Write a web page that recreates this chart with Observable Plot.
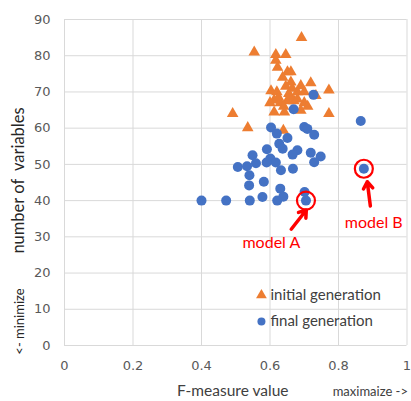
<!DOCTYPE html>
<html><head><meta charset="utf-8">
<script src="https://cdn.jsdelivr.net/npm/d3@7"></script>
<script src="https://cdn.jsdelivr.net/npm/@observablehq/plot@0.6"></script>
<style>body{margin:0;background:#fff}</style>
</head><body><div id="chart"></div>
<script>
// ---- data ----
const xTicks = [0, 0.2, 0.4, 0.6, 0.8, 1];
const yTicks = [0, 10, 20, 30, 40, 50, 60, 70, 80, 90];

// initial generation (orange triangles)
const initX = [0.692,0.554,0.617,0.646,0.617,0.622,0.651,0.661,0.637,0.661,0.719,0.690,0.646,0.772,0.603,0.620,0.680,0.700,0.734,0.612,0.630,0.650,0.670,0.700,0.640,0.491,0.612,0.642,0.690,0.772,0.535,0.639,0.660,0.680,0.625,0.710,0.665,0.600,0.655];
const initY = [85,81,80.3,80.3,78.7,76.8,75.5,75.5,74,72.7,72.5,71.7,71.5,70.5,70.3,70,70,70,69,67.7,67,67.5,67.5,67,66,64,64.4,64.4,64.9,64,60.1,59.4,68.5,68,68.5,66,71,67,69.5];

// final generation (blue circles)
const finalX = [0.727,0.669,0.865,0.874,0.603,0.620,0.651,0.700,0.709,0.729,0.627,0.637,0.680,0.666,0.591,0.549,0.601,0.617,0.559,0.590,0.506,0.533,0.632,0.667,0.719,0.748,0.729,0.540,0.582,0.539,0.630,0.701,0.639,0.578,0.400,0.472,0.541,0.621,0.705];
const finalY = [69.2,65.2,62,48.8,60.2,58.5,57.3,60.3,59.8,58.2,55.7,54.3,53.9,52.7,54.2,52.5,51.6,50.5,50.3,50.5,49.3,49.5,48.4,48.8,53.2,52.2,50.6,47,45.2,44.2,43.3,42.4,41.1,41,40,40,40,40,40];

// highlighted models
const modelNames = ["model A", "model B"];
const modelX = [0.705, 0.874];
const modelY = [40, 48.8];
const modelLabelX = [0.604, 0.903];
const modelLabelY = [28.2, 33.8];
const arrowX1 = [0.662, 0.893];
const arrowY1 = [32.1, 38.5];
const arrowX2 = [0.706, 0.884];
const arrowY2 = [37.4, 45.2];

// legend
const legendLabels = ["initial generation", "final generation"];
const legendSymbols = ["triangle", "circle"];
const legendColors = ["#ED7D31", "#4472C4"];
const legendX = [0.575, 0.575];
const legendY = [13.9, 6.6];

// ---- tables ----
const initial = initX.map((x, i) => ({x, y: initY[i]}));
const final = finalX.map((x, i) => ({x, y: finalY[i]}));
const models = modelNames.map((name, i) => ({name, x: modelX[i], y: modelY[i], lx: modelLabelX[i], ly: modelLabelY[i], x1: arrowX1[i], y1: arrowY1[i], x2: arrowX2[i], y2: arrowY2[i]}));
const legend = legendLabels.map((label, i) => ({label, symbol: legendSymbols[i], color: legendColors[i], x: legendX[i], y: legendY[i]}));

const labelFont = "Lato, 'Open Sans', sans-serif";

const chart = Plot.plot({
  width: 411, height: 401,
  marginLeft: 64, marginRight: 4.5, marginTop: 19, marginBottom: 56,
  style: {background: "#fff", fontFamily: "'DejaVu Sans', sans-serif", fontSize: "13px", color: "#595959"},
  x: {domain: [0, 1]},
  y: {domain: [0, 90]},
  marks: [
    Plot.gridX(xTicks, {stroke: "#d9d9d9", strokeOpacity: 1}),
    Plot.gridY(yTicks, {stroke: "#d9d9d9", strokeOpacity: 1}),
    Plot.axisX(xTicks, {tickSize: 0, tickPadding: 15, label: null, tickFormat: d => String(d), fill: "#595959"}),
    Plot.axisY(yTicks, {tickSize: 0, tickPadding: 14, label: null, fill: "#595959"}),
    Plot.dot(initial, {x: "x", y: "y", symbol: "triangle", r: 4.3, fill: "#ED7D31", stroke: null}),
    Plot.dot(final, {x: "x", y: "y", symbol: "circle", r: 5, fill: "#4472C4", stroke: null}),
    Plot.dot(models, {x: "x", y: "y", r: 9, fill: "none", stroke: "#FF0000", strokeWidth: 2.2}),
    Plot.arrow(models, {x1: "x1", y1: "y1", x2: "x2", y2: "y2", stroke: "#FF0000", strokeWidth: 3.5, headLength: 9, headAngle: 70}),
    Plot.text(models, {x: "lx", y: "ly", text: "name", fill: "#FF0000", fontSize: 16, fontFamily: labelFont}),
    Plot.dot(legend, {x: "x", y: "y", symbol: "symbol", fill: "color", r: 4, stroke: null}),
    Plot.text(legend, {x: "x", y: "y", text: "label", dx: 9, textAnchor: "start", fill: "#404040", fontSize: 15, fontFamily: labelFont}),
    Plot.text(["F-measure value"], {frameAnchor: "bottom", dx: -3, dy: 50, fontSize: 15.5, fill: "#404040", fontFamily: labelFont}),
    Plot.text(["maximaize ->"], {frameAnchor: "bottom-right", textAnchor: "end", dx: 1, dy: 50, fontSize: 13, fill: "#404040", fontFamily: labelFont}),
    Plot.text(["number of  variables"], {frameAnchor: "left", textAnchor: "middle", rotate: -90, dx: -46, dy: -2, fontSize: 16.5, fill: "#262626", fontFamily: labelFont}),
    Plot.text(["<- minimize"], {frameAnchor: "left", textAnchor: "middle", rotate: -90, dx: -45, dy: 139, fontSize: 13, fill: "#262626", fontFamily: labelFont})
  ]
});
chart.querySelectorAll("text").forEach(t => { if (t.textContent.includes("  ")) t.style.whiteSpace = "pre"; });
document.getElementById("chart").append(chart);
</script>
</body></html>
